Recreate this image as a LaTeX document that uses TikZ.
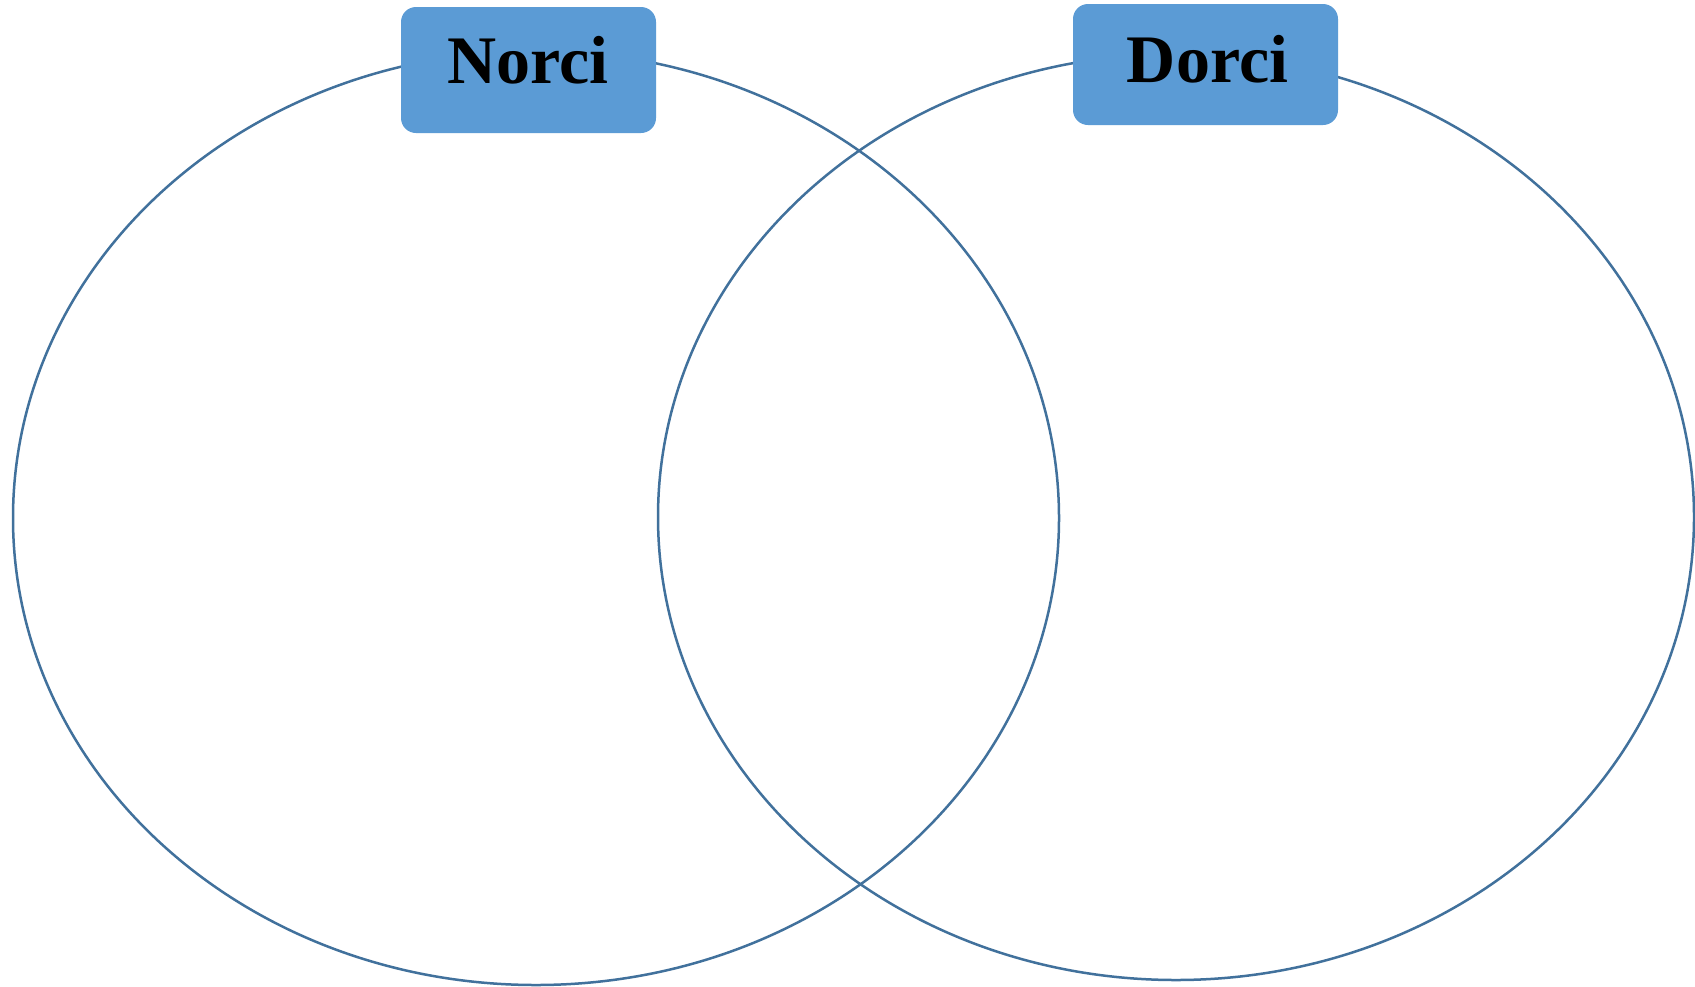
\documentclass[tikz,border=0pt]{standalone}
\usepackage{fontspec}
\setmainfont{Liberation Serif}
\definecolor{ringblue}{HTML}{41719C}
\definecolor{boxblue}{HTML}{5B9BD5}
\begin{document}
\begin{tikzpicture}[x=0.5pt,y=-0.5pt,
  ring/.style={draw=ringblue,line width=1.25pt},
  labelbox/.style={fill=boxblue,draw=none,rounded corners=7.5pt,inner sep=0pt},
  labeltext/.style={font=\fontsize{34}{37}\selectfont\bfseries,anchor=base,inner sep=0pt}]
\useasboundingbox (0,0) rectangle (1695,986);
\fill[white] (0,0) rectangle (1695,986);
\draw[ring] (536,518) ellipse [x radius=261.5pt, y radius=233.5pt];
\draw[ring] (1176,517) ellipse [x radius=259pt, y radius=231.5pt];
\node[labelbox,minimum width=127.5pt,minimum height=63pt] (nbox) at (528.5,70) {};
\node[labelbox,minimum width=132.5pt,minimum height=60.5pt] (dbox) at (1205.5,64.5) {};
\node[labeltext] (ntext) at (528,83) {Norci};
\node[labeltext] (dtext) at (1207.5,82) {Dorci};
\end{tikzpicture}
\end{document}
